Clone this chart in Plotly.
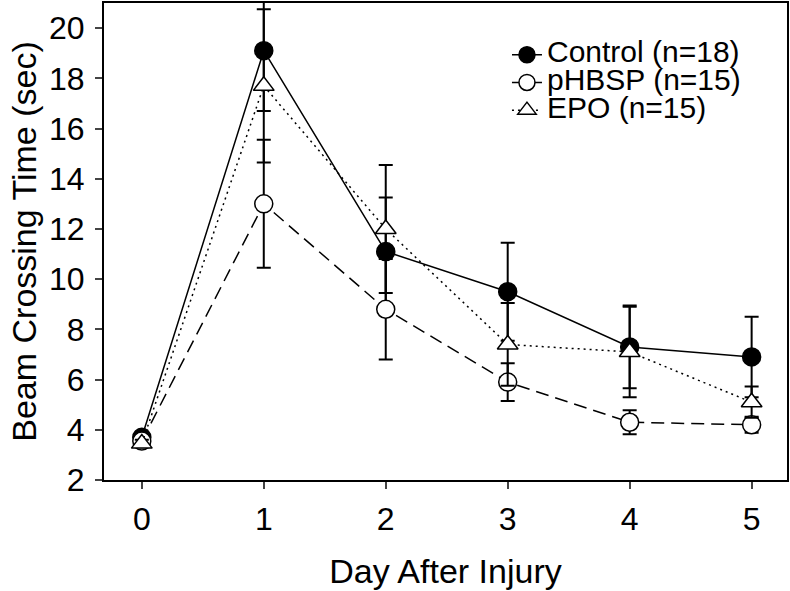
import plotly.graph_objects as go

days = [0, 1, 2, 3, 4, 5]
control = [3.7, 19.1, 11.1, 9.5, 7.3, 6.9]
control_se = [0.2, 2.4, 2.15, 1.95, 1.65, 1.6]
phbsp = [3.55, 13.0, 8.8, 5.9, 4.3, 4.2]
phbsp_se = [0.2, 2.55, 2.0, 0.75, 0.48, 0.32]
epo = [3.45, 17.7, 12.0, 7.4, 7.1, 5.1]
epo_se = [0.15, 3.05, 2.55, 1.65, 1.8, 0.62]
names = ["Control (n=18)", "pHBSP (n=15)", "EPO (n=15)"]
x_ticks = [0, 1, 2, 3, 4, 5]
y_ticks = [2, 4, 6, 8, 10, 12, 14, 16, 18, 20]

FONT = "Liberation Sans, Arial, sans-serif"

def lbl(s):
    return '<span style="font-size:30px">%s</span>' % s

fig = go.Figure()
specs = [
    (control, control_se, names[0], "solid", "circle", "black"),
    (phbsp, phbsp_se, names[1], "13px,7px", "circle", "white"),
    (epo, epo_se, names[2], "2px,4px", "triangle-up", "white"),
]
for vals, se, name, dash, sym, fill in specs:
    fig.add_trace(go.Scatter(
        x=days, y=vals, name=lbl(name), mode="lines+markers",
        line=dict(color="black", width=1.5, dash=dash),
        marker=dict(symbol=sym, size=18, color=fill, line=dict(color="black", width=1.5)),
        error_y=dict(type="data", array=se, visible=True, color="black", thickness=2, width=7),
        cliponaxis=True,
    ))

fig.update_layout(
    width=790, height=591,
    margin=dict(l=104, r=3, t=1, b=111),
    paper_bgcolor="white", plot_bgcolor="white",
    font=dict(family=FONT, size=32, color="black"),
    showlegend=True,
    legend=dict(
        x=0.59, y=0.931, xanchor="left", yanchor="top",
        font=dict(family=FONT, size=19, color="black"),
        bgcolor="rgba(0,0,0,0)", tracegroupgap=0,
    ),
    xaxis=dict(
        range=[-0.31, 5.29], tickvals=x_ticks, ticks="outside", ticklen=7, tickwidth=2,
        showline=True, linewidth=2, linecolor="black", mirror=True, showgrid=False, zeroline=False,
        tickfont=dict(family=FONT, size=32), ticklabelstandoff=3,
        title=dict(text="Day After Injury", font=dict(family=FONT, size=34), standoff=23),
    ),
    yaxis=dict(
        range=[2, 21], tickvals=y_ticks, ticks="outside", ticklen=7, tickwidth=2,
        showline=True, linewidth=2, linecolor="black", mirror=True, showgrid=False, zeroline=False,
        tickfont=dict(family=FONT, size=32), ticklabelstandoff=4,
        title=dict(text="Beam Crossing Time (sec)", font=dict(family=FONT, size=34), standoff=2),
    ),
)

fig.write_html("out.html", config={"displayModeBar": False},
               post_script="document.body.style.margin='0px';")
